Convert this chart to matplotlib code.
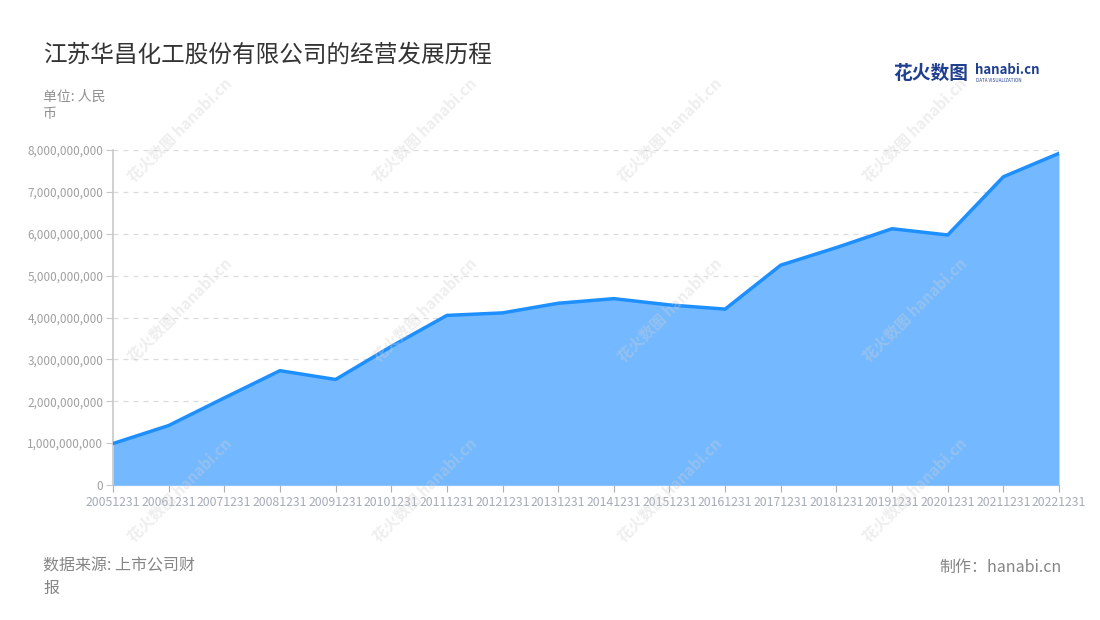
import numpy as np
import matplotlib.pyplot as plt
from matplotlib.ticker import FuncFormatter

plt.rcParams['font.family'] = ['Noto Sans CJK SC', 'DejaVu Sans']

# data (unit: RMB)
years = ['20051231', '20061231', '20071231', '20081231', '20091231', '20101231',
         '20111231', '20121231', '20131231', '20141231', '20151231', '20161231',
         '20171231', '20181231', '20191231', '20201231', '20211231', '20221231']
revenue = [0.99e9, 1.42e9, 2.08e9, 2.73e9, 2.52e9, 3.31e9,
           4.05e9, 4.11e9, 4.34e9, 4.45e9, 4.30e9, 4.20e9,
           5.25e9, 5.67e9, 6.12e9, 5.97e9, 7.36e9, 7.92e9]
y_ticks = [0, 1e9, 2e9, 3e9, 4e9, 5e9, 6e9, 7e9, 8e9]

title = '江苏华昌化工股份有限公司的经营发展历程'
unit_label = '单位: 人民\n币'
source_label = '数据来源: 上市公司财\n报'
maker_label = '制作：hanabi.cn'

fig = plt.figure(figsize=(11, 6.2), dpi=100)
ax = fig.add_axes([113 / 1100, 1 - 485 / 620, (1059 - 113) / 1100, (485 - 150) / 620])

x = np.arange(len(years))
ax.fill_between(x, revenue, 0, color='#74b9ff', linewidth=0, zorder=2)
ax.plot(x, revenue, color='#1e8fff', linewidth=2.5, solid_joinstyle='round', zorder=3)

ax.set_xlim(0, len(years) - 1)
ax.set_ylim(0, 8e9)
ax.set_yticks(y_ticks)
ax.yaxis.set_major_formatter(FuncFormatter(lambda v, p: f'{int(v):,}'))
ax.set_xticks(x)
ax.set_xticklabels(years)

ax.grid(axis='y', color='#dcdcdc', linestyle=(0, (4, 4)), linewidth=0.9, zorder=1)
for s in ['top', 'right']:
    ax.spines[s].set_visible(False)
ax.spines['left'].set_color('#c8c8c8')
ax.spines['left'].set_linewidth(1.2)
ax.spines['bottom'].set_color('#8fc3f5')
ax.tick_params(axis='y', colors='#c8c8c8', labelcolor='#a0a0a0', labelsize=8.5, length=5, pad=2)
ax.tick_params(axis='x', colors='#b0b0b0', labelcolor='#a5abb8', labelsize=8.8, length=5, pad=3)

# texts
fig.text(43 / 1100, 1 - 55 / 620, title, fontsize=17, color='#333333', va='center')
fig.text(43 / 1100, 1 - 105 / 620, unit_label, fontsize=10, color='#909090', va='center', linespacing=1.3)
fig.text(43 / 1100, 1 - 577 / 620, source_label, fontsize=11.5, color='#858585', va='center', linespacing=1.4)
fig.text(1062 / 1100, 1 - 567 / 620, maker_label, fontsize=11.5, color='#858585', va='center', ha='right')

# logo
fig.text(893 / 1100, 1 - 73 / 620, '花火数图', fontsize=13.5, color='#1f3f8f', fontweight='bold', va='center')
fig.text(975 / 1100, 1 - 70 / 620, 'hanabi.cn', fontsize=9.5, color='#1f3f8f', fontweight='bold', va='center')
fig.text(976 / 1100, 1 - 80 / 620, 'DATA VISUALIZATION', fontsize=3.3, color='#1f3f8f', va='center')

# watermarks
for cx in [180, 425, 670, 915]:
    for cy in [130, 310, 490]:
        fig.text(cx / 1100, 1 - cy / 620, '花火数图 hanabi.cn', fontsize=11, color='#d0d0d0',
                 alpha=0.35, rotation=45, ha='center', va='center', fontweight='bold', zorder=10)

fig.savefig('out.png', dpi=100)
